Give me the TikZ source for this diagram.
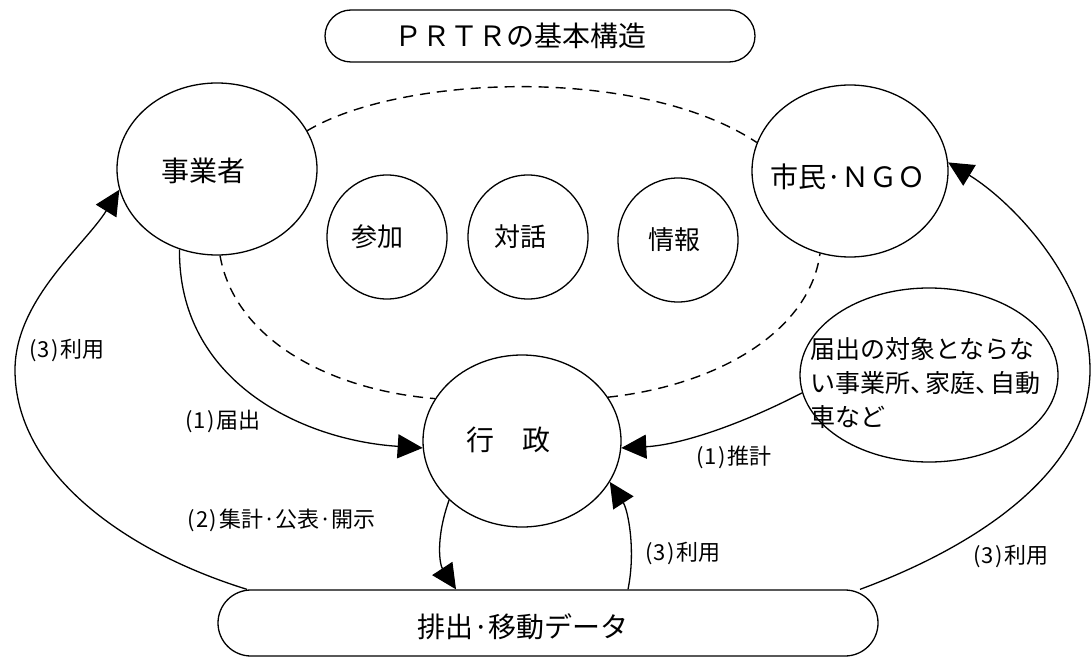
\documentclass[tikz,border=0pt]{standalone}
\usepackage{fontspec}
\newfontfamily\jp{Noto Sans CJK JP}
\usetikzlibrary{shapes.geometric,arrows.meta}
\newcommand\hwc[1]{\makebox[0.5em]{#1}}
\newcommand\nten{、\kern-0.4em}
\begin{document}
\begin{tikzpicture}[x=1pt,y=-1pt,
  every node/.style={font=\jp},
  big/.style={font=\jp\fontsize{28}{34}\selectfont},
  mid/.style={font=\jp\fontsize{26}{32}\selectfont},
  lbl/.style={font=\jp\fontsize{22}{26}\selectfont, inner sep=0pt},
  oval/.style={ellipse, draw, line width=1.3pt, fill=white, inner sep=0pt},
  pill/.style={rectangle, draw, line width=1.3pt, fill=white, inner sep=0pt},
  ln/.style={line width=1.3pt},
  arr/.style={ln, -{Triangle[length=25pt,width=24pt]}},
  dsh/.style={line width=1.4pt, dash pattern=on 10pt off 7pt},
]
\useasboundingbox (0,0) rectangle (1091,660);

% boxes
\node[pill, rounded corners=26pt, minimum width=430pt, minimum height=52pt,
      label={[big, xshift=-20pt]center:ＰＲＴＲの基本構造}] (title) at (540,36) {};
\node[pill, rounded corners=33pt, minimum width=660pt, minimum height=66pt,
      label={[big, xshift=-25pt, yshift=-4pt]center:排出·移動データ}] (data) at (548,623) {};

% ovals
\node[oval, minimum width=200pt, minimum height=172pt,
      label={[big, xshift=-14pt, yshift=-2pt]center:事業者}] (jigyo) at (217,169) {};
\node[oval, minimum width=196pt, minimum height=172pt,
      label={[big, xshift=-2pt, yshift=-6pt]center:市民·ＮＧＯ}] (shimin) at (850,171) {};
\node[oval, minimum width=120pt, minimum height=124pt,
      label={[mid, xshift=-10pt]center:参加}] (sanka) at (387,237) {};
\node[oval, minimum width=120pt, minimum height=124pt,
      label={[mid, xshift=-8pt]center:対話}] (taiwa) at (528,237) {};
\node[oval, minimum width=120pt, minimum height=124pt,
      label={[mid, xshift=-4pt]center:情報}] (joho) at (678,240) {};
\node[oval, minimum width=198pt, minimum height=172pt,
      label={[big, xshift=-14pt, yshift=1pt]center:行　政}] (gyosei) at (522,441) {};
\node[oval, minimum width=258pt, minimum height=174pt] (todoke) at (929,375) {};
\node[font=\jp\fontsize{25}{34}\selectfont, align=left, anchor=west, inner sep=0pt]
      (todoketxt) at (810,383) {届出の対象とならな\\い事業所\nten 家庭\nten 自動\\車など};

% labels
\node[lbl] (l1) at (222,421) {\hwc{(}\hwc{1}\hwc{)}届出};
\node[lbl] (l2) at (281,520) {\hwc{(}\hwc{2}\hwc{)}集計·公表·開示};
\node[lbl] (l3a) at (66,350) {\hwc{(}\hwc{3}\hwc{)}利用};
\node[lbl] (l3b) at (682,553) {\hwc{(}\hwc{3}\hwc{)}利用};
\node[lbl] (l3c) at (1010,556) {\hwc{(}\hwc{3}\hwc{)}利用};
\node[lbl] (l4) at (733,457) {\hwc{(}\hwc{1}\hwc{)}推計};

% dashed links
\draw[dsh] (jigyo.23) .. controls (400,75) and (640,65) .. (shimin.163);
\draw[dsh] (jigyo.272) .. controls (235,340) and (330,390) .. (gyosei.154);
\draw[dsh] (gyosei.27) .. controls (720,385) and (810,330) .. (shimin.250);

% arrows
\draw[arr] (jigyo.245) .. controls (178,380) and (300,440) .. (gyosei.184);
\draw[arr] (todoke.188) .. controls (740,425) and (680,445) .. (gyosei.356);
\draw[arr] (gyosei.219) .. controls (435,540) and (440,565) .. ([xshift=-92pt]data.north);
\draw[arr] ([xshift=80pt]data.north) .. controls (636,550) and (628,510) .. (gyosei.335);
\draw[arr] ([xshift=-301pt]data.north) .. controls (120,550) and (15,470) .. (15,370)
           .. controls (15,300) and (85,245) .. (jigyo.192);
\draw[arr] ([xshift=312pt]data.north) .. controls (980,545) and (1090,470) .. (1090,370)
           .. controls (1090,280) and (1010,200) .. (shimin.5);
\end{tikzpicture}
\end{document}
